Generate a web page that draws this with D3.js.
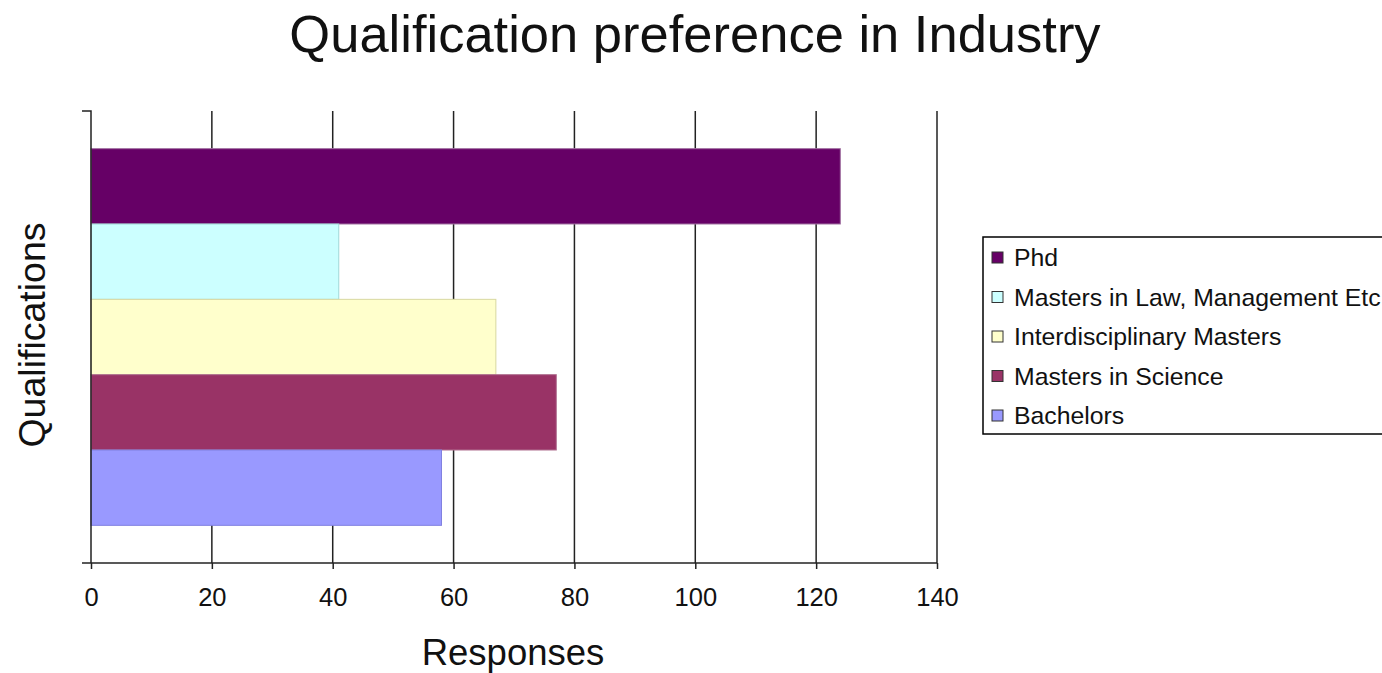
<!DOCTYPE html>
<html>
<head>
<meta charset="utf-8">
<script src="https://cdn.jsdelivr.net/npm/d3@7"></script>
<style>
  body { margin: 0; background: #fff; }
  text { font-family: "Liberation Sans", Arial, sans-serif; fill: #111; }
</style>
</head>
<body>
<script>
const seriesNames = ['Phd', 'Masters in Law, Management Etc', 'Interdisciplinary Masters', 'Masters in Science', 'Bachelors'];
const responses = [124, 41, 67, 77, 58];
const seriesColors = ['#660066', '#ccffff', '#ffffcc', '#993366', '#9999ff'];
const seriesBorders = ['#a070a0', '#a0d8d8', '#d8d8a0', '#b07090', '#8080e0'];
const xTicks = [0, 20, 40, 60, 80, 100, 120, 140];

const width = 1382, height = 673;
const margin = {top: 111, left: 91};

const svg = d3.select("body").append("svg")
    .attr("width", width)
    .attr("height", height);

const x = d3.scaleLinear()
    .domain([0, 140])
    .range([0, 846]);

const y = d3.scaleBand()
    .domain(seriesNames)
    .range([0, 452])
    .paddingInner(0)
    .paddingOuter(0.5);

const g = svg.append("g")
    .attr("transform", `translate(${margin.left},${margin.top})`);

// vertical gridlines
g.selectAll("line.grid")
    .data(xTicks.filter(d => d > 0))
    .enter().append("line")
    .attr("class", "grid")
    .attr("x1", d => x(d)).attr("x2", d => x(d))
    .attr("y1", 0).attr("y2", 452)
    .attr("stroke", "#222")
    .attr("stroke-width", 1.5);

// bars
g.selectAll("rect.bar")
    .data(seriesNames)
    .enter().append("rect")
    .attr("class", "bar")
    .attr("x", 0)
    .attr("y", d => y(d))
    .attr("width", (d, i) => x(responses[i]))
    .attr("height", y.bandwidth())
    .attr("fill", (d, i) => seriesColors[i])
    .attr("stroke", (d, i) => seriesBorders[i])
    .attr("stroke-width", 1);

// x axis
const xAxis = g.append("g")
    .attr("transform", `translate(0,452)`)
    .call(d3.axisBottom(x).tickValues(xTicks).tickSize(6).tickSizeOuter(0).tickPadding(19));
xAxis.select(".domain").attr("stroke", "#222").attr("stroke-width", 1.5)
    .attr("d", "M-9,0H846");
xAxis.selectAll(".tick line").attr("stroke", "#222").attr("stroke-width", 1.5);
xAxis.selectAll(".tick text")
    .style("font-family", '"Liberation Sans", Arial, sans-serif')
    .style("font-size", "25.5px")
    .attr("fill", "#222");

// y axis (no labels, just line with end ticks)
g.append("path")
    .attr("d", "M-9,0H0V452")
    .attr("fill", "none")
    .attr("stroke", "#222")
    .attr("stroke-width", 1.5);

// titles
svg.append("text")
    .attr("x", 695)
    .attr("y", 52)
    .attr("text-anchor", "middle")
    .style("font-size", "52.5px")
    .text("Qualification preference in Industry");

svg.append("text")
    .attr("x", 513)
    .attr("y", 665)
    .attr("text-anchor", "middle")
    .style("font-size", "36.5px")
    .text("Responses");

svg.append("text")
    .attr("transform", "translate(45,335) rotate(-90)")
    .attr("text-anchor", "middle")
    .style("font-size", "37.5px")
    .text("Qualifications");

// legend
const legend = svg.append("g").attr("transform", "translate(983,237)");
legend.append("rect")
    .attr("x", 0).attr("y", 0)
    .attr("width", 420).attr("height", 197)
    .attr("fill", "#fff")
    .attr("stroke", "#000")
    .attr("stroke-width", 1.5);

const item = legend.selectAll("g.item")
    .data(seriesNames)
    .enter().append("g")
    .attr("class", "item")
    .attr("transform", (d, i) => `translate(0,${20 + i * 39.5})`);

item.append("rect")
    .attr("x", 9).attr("y", -5)
    .attr("width", 11).attr("height", 11)
    .attr("fill", (d, i) => seriesColors[i])
    .attr("stroke", "#333")
    .attr("stroke-width", 1);

item.append("text")
    .attr("x", 31)
    .attr("y", 9)
    .style("font-size", "24.8px")
    .text(d => d);
</script>
</body>
</html>
